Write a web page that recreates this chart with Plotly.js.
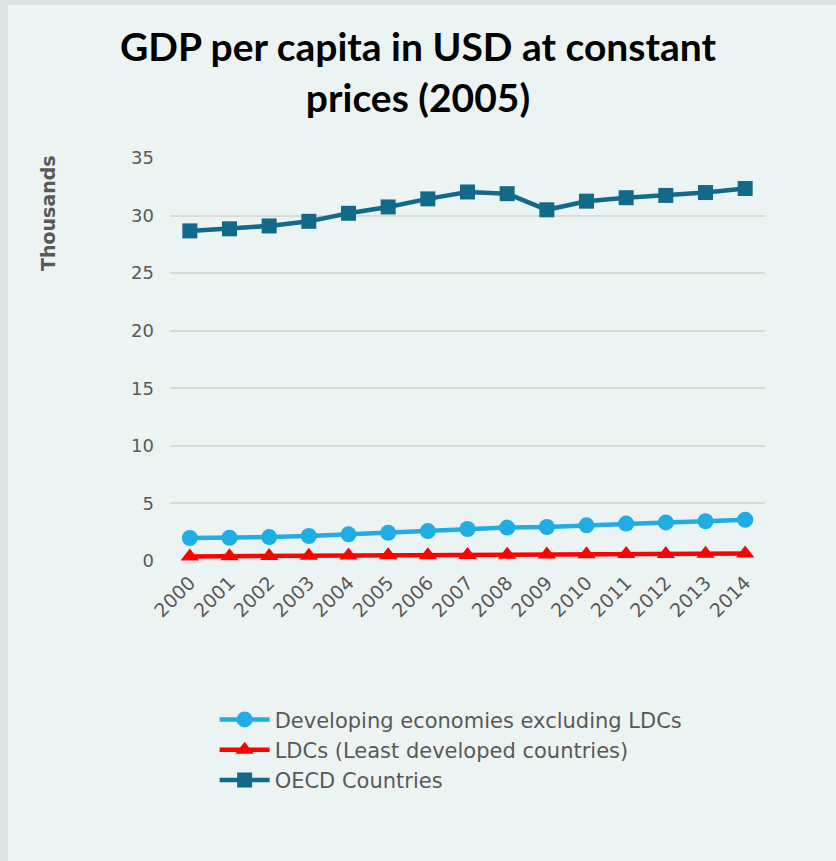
<!DOCTYPE html>
<html>
<head>
<meta charset="utf-8">
<script src="https://cdn.plot.ly/plotly-3.0.1.min.js"></script>
<style>
html,body{margin:0;padding:0;background:#ecf4f3;}
#chart{width:836px;height:861px;}
</style>
</head>
<body>
<div id="chart"></div>
<script>
const years = ["2000","2001","2002","2003","2004","2005","2006","2007","2008","2009","2010","2011","2012","2013","2014"];
const developing = [2.0,2.02,2.08,2.17,2.32,2.45,2.6,2.78,2.9,2.95,3.1,3.25,3.35,3.45,3.58];
const ldcs = [0.40,0.42,0.44,0.45,0.47,0.49,0.51,0.53,0.55,0.56,0.58,0.60,0.61,0.63,0.66];
const oecd = [28.67,28.85,29.1,29.5,30.2,30.75,31.45,32.05,31.9,30.5,31.25,31.55,31.75,32.0,32.35];
const seriesNames = ["Developing economies excluding LDCs","LDCs (Least developed countries)","OECD Countries"];
const tickVals = [0,5,10,15,20,25,30,35];

const traces = [
  {x: years, y: developing, name: seriesNames[0], type: 'scatter', mode: 'lines+markers',
   line: {color: '#1fade4', width: 4.5}, marker: {symbol: 'circle', size: 16, color: '#1fade4'}},
  {x: years, y: ldcs, name: seriesNames[1], type: 'scatter', mode: 'lines+markers',
   line: {color: '#ff0000', width: 4.5}, marker: {symbol: 'triangle-up', size: 16, color: '#ff0000'}},
  {x: years, y: oecd, name: seriesNames[2], type: 'scatter', mode: 'lines+markers',
   line: {color: '#126a8a', width: 4.5}, marker: {symbol: 'square', size: 15, color: '#126a8a'}}
];

const layout = {
  width: 836, height: 861,
  paper_bgcolor: '#ecf4f3', plot_bgcolor: '#ecf4f3',
  margin: {l: 170, r: 71, t: 158, b: 300},
  title: {text: 'GDP per capita in USD at constant<br>prices (2005)',
          font: {family: 'Lato, sans-serif', size: 39, color: '#000000', weight: 'bold'},
          x: 0.5, xanchor: 'center', y: 0.929, yref: 'container', yanchor: 'middle'},
  xaxis: {type: 'category', range: [-0.5, 14.5], tickangle: -45, showgrid: false,
          showline: false, zeroline: false, ticks: '', ticklabelstandoff: 6,
          tickfont: {family: 'DejaVu Sans, sans-serif', size: 19, color: '#595959'}},
  yaxis: {range: [0, 35], tickvals: tickVals, showgrid: true, gridcolor: '#d9d9d9', gridwidth: 2,
          zeroline: false, showline: false, ticks: '', ticklabelstandoff: 15,
          tickfont: {family: 'DejaVu Sans, sans-serif', size: 18, color: '#595959'}},
  annotations: [
    {text: '<b>Thousands</b>', xref: 'paper', yref: 'paper', x: -122/595, y: (561-213)/403,
     xanchor: 'center', yanchor: 'middle', textangle: -90, showarrow: false,
     font: {family: 'DejaVu Sans, sans-serif', size: 19, color: '#595959'}}
  ],
  showlegend: true,
  legend: {x: 0.075, xanchor: 'left', y: -0.343, yanchor: 'top', orientation: 'v',
           bgcolor: 'rgba(0,0,0,0)', tracegroupgap: 0, itemwidth: 50,
           font: {family: 'DejaVu Sans, sans-serif', size: 21, color: '#595959'}},
  shapes: [
    {type: 'line', xref: 'paper', yref: 'paper', x0: -170/595, x1: 1 + 71/595, y0: 1 + 155.5/403, y1: 1 + 155.5/403,
     line: {color: '#dde5e4', width: 5}, layer: 'below'},
    {type: 'line', xref: 'paper', yref: 'paper', x0: -166/595, x1: -166/595, y0: -300/403, y1: 1 + 158/403,
     line: {color: '#dde5e4', width: 8}, layer: 'below'}
  ]
};

Plotly.newPlot('chart', traces, layout, {displayModeBar: false, staticPlot: true});
</script>
</body>
</html>
